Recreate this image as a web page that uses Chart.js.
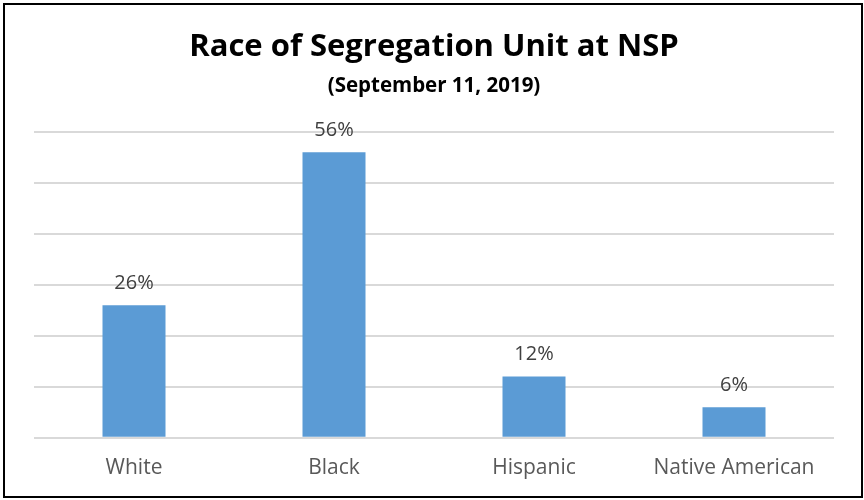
<!DOCTYPE html>
<html>
<head>
<meta charset="utf-8">
<script src="https://cdn.jsdelivr.net/npm/chart.js@4"></script>
<style>
  body { margin: 0; background: #fff; }
  #wrap { position: relative; width: 864px; height: 500px; }
  #frame { position: absolute; left: 3px; top: 3px; width: 856px; height: 491px; border: 2px solid #000; pointer-events: none; }
</style>
</head>
<body>
<div id="wrap">
  <canvas id="raceChart" width="864" height="500"></canvas>
  <div id="frame"></div>
</div>
<script>
var categories = ['White', 'Black', 'Hispanic', 'Native American'];
var percents = [26, 56, 12, 6];
var yTicks = [0, 10, 20, 30, 40, 50, 60];

// draws the "26%" style labels above each bar
var barLabels = {
    id: 'barLabels',
    afterDatasetsDraw: function (chart) {
        var ctx = chart.ctx;
        var meta = chart.getDatasetMeta(0);
        ctx.save();
        ctx.font = '20px "Open Sans"';
        ctx.fillStyle = '#404040';
        ctx.textAlign = 'center';
        ctx.textBaseline = 'middle';
        meta.data.forEach(function (bar, i) {
            ctx.fillText(percents[i] + '%', bar.x, bar.y - 22);
        });
        ctx.restore();
    }
};

var ctx = document.getElementById('raceChart').getContext('2d');
new Chart(ctx, {
    type: 'bar',
    data: {
        labels: categories,
        datasets: [{
            data: percents,
            backgroundColor: '#5b9bd5',
            barPercentage: 0.315,
            categoryPercentage: 1
        }]
    },
    options: {
        responsive: false,
        animation: false,
        layout: { padding: { left: 34, right: 30, top: 0, bottom: 1 } },
        plugins: {
            legend: { display: false },
            tooltip: { enabled: false },
            title: {
                display: true,
                text: 'Race of Segregation Unit at NSP',
                color: '#000',
                font: { family: 'Open Sans', size: 31, weight: 'bold' },
                padding: { top: 29, bottom: 8 }
            },
            subtitle: {
                display: true,
                text: '(September 11, 2019)',
                color: '#000',
                font: { family: 'Open Sans', size: 20.5, weight: 'bold' },
                padding: { top: 0, bottom: 33 }
            }
        },
        scales: {
            x: {
                grid: { display: false, drawTicks: false },
                border: { display: false },
                ticks: { color: '#595959', font: { family: 'Open Sans', size: 21 }, padding: 18 }
            },
            y: {
                min: 0,
                max: 60,
                afterBuildTicks: function (axis) {
                    axis.ticks = yTicks.map(function (v) { return { value: v }; });
                },
                ticks: { display: false },
                border: { display: false },
                grid: { color: '#d9d9d9', lineWidth: 2, drawTicks: false }
            }
        }
    },
    plugins: [barLabels]
});
</script>
</body>
</html>
